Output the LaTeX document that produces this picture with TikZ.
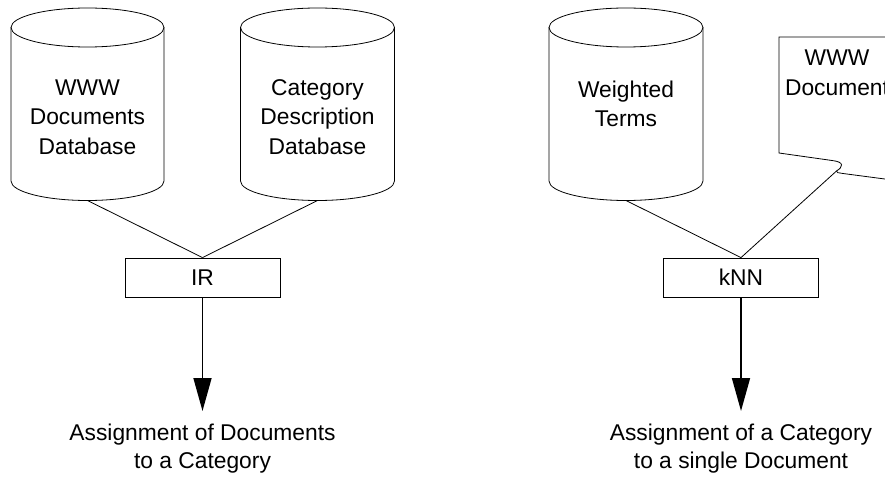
\documentclass[tikz,border=0pt]{standalone}
\usepackage{fontspec}
\setmainfont{Liberation Sans}
\usetikzlibrary{arrows.meta}
\begin{document}
\begin{tikzpicture}[x=1pt,y=1pt,
  thin line/.style={line width=0.8pt,black},
  lbl/.style={align=center,font=\fontsize{22.8}{29.5}\selectfont,inner sep=0pt},
  procbox/.style={draw,line width=0.8pt,minimum width=155pt,minimum height=39pt,inner sep=0pt,font=\fontsize{22.8}{26}\selectfont},
  outarrow/.style={line width=1.6pt,-{Triangle[width=18pt,length=33pt]}},
  outtext/.style={align=center,font=\fontsize{22.8}{28}\selectfont,inner sep=0pt}]
\useasboundingbox (0,0) rectangle (885,-478);
\clip (0,0) rectangle (885,-478);
% cylinder 1
\draw[thin line] (87.5,-27.5) ellipse [x radius=76.5, y radius=19.5];
\draw[thin line] (11,-27.5) -- (11,-181) arc[start angle=180,end angle=360,x radius=76.5,y radius=19.5] -- (164,-27.5);
\coordinate (db1) at (87.5,-200.5);
\node[lbl] (t1) at (87.5,-117) {WWW\\Documents\\Database};
% cylinder 2
\draw[thin line] (317.5,-27.5) ellipse [x radius=77, y radius=19.5];
\draw[thin line] (240.5,-27.5) -- (240.5,-181) arc[start angle=180,end angle=360,x radius=77,y radius=19.5] -- (394.5,-27.5);
\coordinate (db2) at (317.5,-200.5);
\node[lbl] (t2) at (317.5,-117) {Category\\Description\\Database};
% cylinder 3
\draw[thin line] (626,-27.5) ellipse [x radius=77, y radius=19.5];
\draw[thin line] (549,-27.5) -- (549,-181) arc[start angle=180,end angle=360,x radius=77,y radius=19.5] -- (703,-27.5);
\coordinate (db3) at (626,-200.5);
\node[lbl] (t3) at (626,-104) {Weighted\\Terms};
% document shape
\draw[thin line] (900,-37) -- (779,-37) -- (779,-153) -- (832,-160.5)
  .. controls (845,-162) and (843,-167) .. (836.5,-171)
  .. controls (836,-173) and (838,-172.5) .. (843,-173.5) -- (900,-181);
\coordinate (doc) at (836.5,-171);
\node[lbl] (t4) at (837,-73) {WWW\\Document};
% process boxes
\node[procbox] (ir) at (202.5,-277.5) {IR};
\node[procbox] (knn) at (741,-277.5) {kNN};
\draw[thin line] (db1) -- (ir.north);
\draw[thin line] (db2) -- (ir.north);
\draw[thin line] (db3) -- (knn.north);
\draw[thin line] (doc) -- (knn.north);
% outputs
\coordinate (o1) at (202.5,-411);
\coordinate (o2) at (741,-411);
\draw[outarrow] (ir.south) -- (o1);
\draw[outarrow] (knn.south) -- (o2);
\node[outtext] (r1) at (202.5,-449) {Assignment of Documents\\to a Category};
\node[outtext] (r2) at (741,-449) {Assignment of a Category\\to a single Document};
\end{tikzpicture}
\end{document}
